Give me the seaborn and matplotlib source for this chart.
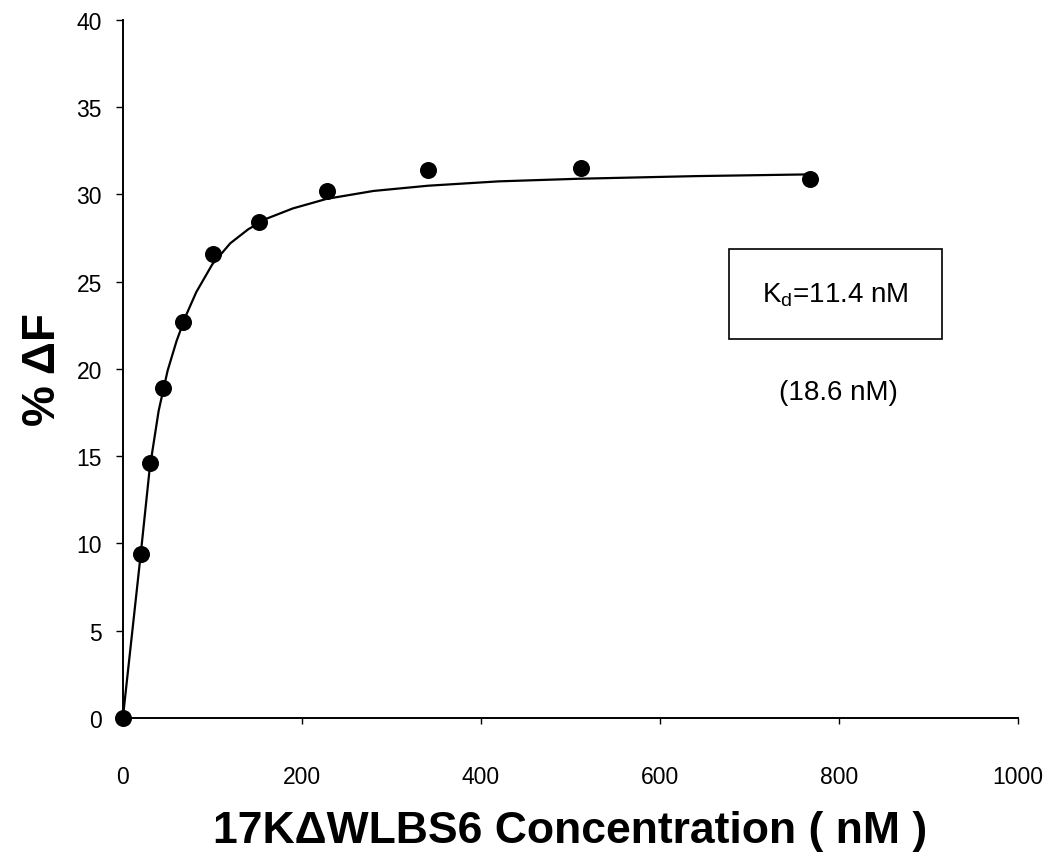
import pandas as pd
import matplotlib
matplotlib.use('Agg')
from matplotlib import pyplot as plt
from matplotlib.patches import Rectangle
import seaborn as sns


# measured points (concentration in nM, % change in fluorescence)
conc = [0, 20, 30, 45, 67.4, 101, 152, 228, 341, 512, 768]
delta_f = [0, 9.4, 14.6, 18.9, 22.7, 26.6, 28.4, 30.2, 31.4, 31.5, 30.9]

# fitted binding curve
fit_conc = [0, 10, 20, 30, 40, 50, 60, 70, 82, 100, 120, 140, 160, 190, 228, 280, 341, 420, 510, 640, 768]
fit_df = [0, 4.7, 9.4, 14.3, 17.6, 19.9, 21.6, 23.0, 24.4, 26.0, 27.2, 28.0, 28.6, 29.2, 29.75,
          30.2, 30.5, 30.75, 30.9, 31.05, 31.15]

kd_label = 'K$_\\mathregular{d}$=11.4 nM'
kd_alt_label = '(18.6 nM)'

points = pd.DataFrame({'conc': conc, 'dF': delta_f})
fit = pd.DataFrame({'conc': fit_conc, 'dF': fit_df})

sns.set_style('ticks')
plt.rcParams['font.family'] = ['Liberation Sans', 'DejaVu Sans']
plt.rcParams.update({'text.color': 'black', 'axes.labelcolor': 'black',
                     'xtick.color': 'black', 'ytick.color': 'black'})

fig = plt.figure(figsize=(10.5, 8.62), dpi=100)
ax = fig.add_axes([0.117, 0.166, 0.8525, 0.8097])

sns.lineplot(data=fit, x='conc', y='dF', sort=False, estimator=None, color='black', linewidth=1.6, ax=ax)
sns.scatterplot(data=points, x='conc', y='dF', color='black', s=150, edgecolor='black', linewidth=0,
                zorder=3, clip_on=False, ax=ax)

ax.set_xlim(0, 1000)
ax.set_ylim(0, 40)
ax.set_xticks(range(0, 1001, 200))
ax.set_yticks(range(0, 41, 5))
ax.tick_params(axis='x', labelsize=16.5, length=4, width=1, pad=30)
ax.tick_params(axis='y', labelsize=16.5, length=5, width=1, pad=10)

sns.despine(ax=ax)
for sp in ['left', 'bottom']:
    ax.spines[sp].set_linewidth(1.4)
    ax.spines[sp].set_color('black')

ax.set_xlabel('17K\u0394WLBS6 Concentration ( nM )', fontsize=32, fontweight='bold', labelpad=16)
ax.set_ylabel('% \u0394F', fontsize=33, fontweight='bold', labelpad=8)

# Kd annotation box
ax.add_patch(Rectangle((677, 21.7), 238, 5.2, fill=False, edgecolor='black', linewidth=1.2))
ax.text(796, 24.3, kd_label, fontsize=20, ha='center', va='center')
ax.text(799, 18.7, kd_alt_label, fontsize=20, ha='center', va='center')

plt.savefig('out.png', dpi=100)
